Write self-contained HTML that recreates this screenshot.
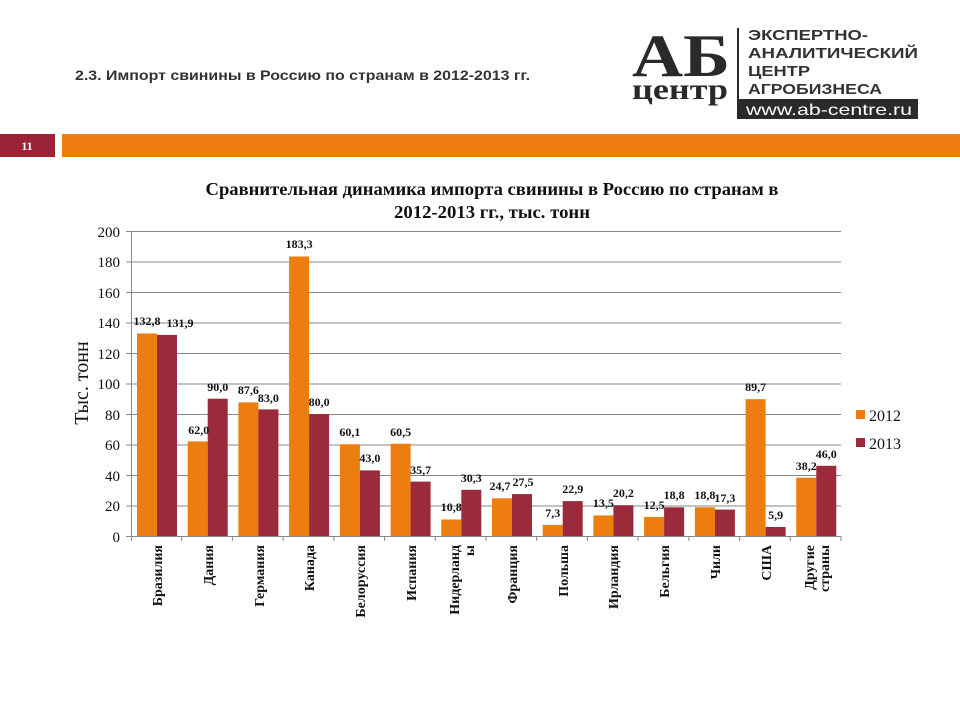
<!DOCTYPE html>
<html><head><meta charset="utf-8"><style>
body{margin:0;width:960px;height:720px;background:#fff;overflow:hidden}
svg{display:block}
</style></head><body>
<svg width="960" height="720" xmlns="http://www.w3.org/2000/svg">
<text x="75" y="80" font-family="Liberation Sans, sans-serif" font-weight="bold" font-size="14" fill="#333" textLength="455" lengthAdjust="spacingAndGlyphs">2.3. Импорт свинины в Россию по странам в 2012-2013 гг.</text>
<!-- logo -->
<text x="632" y="76" font-family="Liberation Serif, serif" font-weight="bold" font-size="60" fill="#2a2a2a" textLength="98" lengthAdjust="spacingAndGlyphs">АБ</text>
<text x="632" y="99" font-family="Liberation Serif, serif" font-weight="bold" font-size="30" fill="#2a2a2a" textLength="96" lengthAdjust="spacingAndGlyphs">центр</text>
<rect x="737" y="28" width="2" height="90" fill="#2a2a2a"/>
<g font-family="Liberation Sans, sans-serif" font-weight="bold" font-size="15" fill="#333">
<text x="748" y="40" textLength="120" lengthAdjust="spacingAndGlyphs">ЭКСПЕРТНО-</text>
<text x="748" y="58" textLength="170" lengthAdjust="spacingAndGlyphs">АНАЛИТИЧЕСКИЙ</text>
<text x="748" y="76" textLength="62" lengthAdjust="spacingAndGlyphs">ЦЕНТР</text>
<text x="748" y="94" textLength="134" lengthAdjust="spacingAndGlyphs">АГРОБИЗНЕСА</text>
</g>
<rect x="737" y="99" width="181" height="20" fill="#2a2a2a"/>
<text x="746" y="115" font-family="Liberation Sans, sans-serif" font-size="16" fill="#fff" textLength="166" lengthAdjust="spacingAndGlyphs">www.ab-centre.ru</text>
<!-- bars -->
<rect x="0" y="134" width="55" height="23" fill="#9b2335"/>
<text x="27" y="150" text-anchor="middle" font-family="Liberation Serif, serif" font-weight="bold" font-size="12" fill="#fff">11</text>
<rect x="62" y="134" width="898" height="23" fill="#ed7d0e"/>
<!-- title -->
<g font-family="Liberation Serif, serif" font-weight="bold" font-size="18" fill="#111" text-anchor="middle">
<text x="492" y="195" textLength="573" lengthAdjust="spacingAndGlyphs">Сравнительная динамика импорта свинины в Россию по странам в</text>
<text x="492" y="218" textLength="196" lengthAdjust="spacingAndGlyphs">2012-2013 гг., тыс. тонн</text>
</g>
<!-- grid -->
<g stroke="#888" stroke-width="1">
<line x1="131" x2="841" y1="231.5" y2="231.5"/><line x1="131" x2="841" y1="262" y2="262"/>
<line x1="131" x2="841" y1="292.5" y2="292.5"/><line x1="131" x2="841" y1="323" y2="323"/>
<line x1="131" x2="841" y1="353.5" y2="353.5"/><line x1="131" x2="841" y1="384" y2="384"/>
<line x1="131" x2="841" y1="414.5" y2="414.5"/><line x1="131" x2="841" y1="445" y2="445"/>
<line x1="131" x2="841" y1="475.5" y2="475.5"/><line x1="131" x2="841" y1="506" y2="506"/>
<line x1="131" x2="841" y1="536.5" y2="536.5"/>
<line x1="131.5" x2="131.5" y1="231" y2="541"/>
<line x1="126" x2="131" y1="231.5" y2="231.5"/><line x1="126" x2="131" y1="262" y2="262"/><line x1="126" x2="131" y1="292.5" y2="292.5"/><line x1="126" x2="131" y1="323" y2="323"/><line x1="126" x2="131" y1="353.5" y2="353.5"/><line x1="126" x2="131" y1="384" y2="384"/><line x1="126" x2="131" y1="414.5" y2="414.5"/><line x1="126" x2="131" y1="445" y2="445"/><line x1="126" x2="131" y1="475.5" y2="475.5"/><line x1="126" x2="131" y1="506" y2="506"/><line x1="126" x2="131" y1="536.5" y2="536.5"/>
<line x1="181.7" x2="181.7" y1="536" y2="541"/><line x1="232.4" x2="232.4" y1="536" y2="541"/><line x1="283.1" x2="283.1" y1="536" y2="541"/><line x1="333.9" x2="333.9" y1="536" y2="541"/><line x1="384.6" x2="384.6" y1="536" y2="541"/><line x1="435.3" x2="435.3" y1="536" y2="541"/><line x1="486" x2="486" y1="536" y2="541"/><line x1="536.7" x2="536.7" y1="536" y2="541"/><line x1="587.4" x2="587.4" y1="536" y2="541"/><line x1="638.1" x2="638.1" y1="536" y2="541"/><line x1="688.9" x2="688.9" y1="536" y2="541"/><line x1="739.6" x2="739.6" y1="536" y2="541"/><line x1="790.3" x2="790.3" y1="536" y2="541"/><line x1="841" x2="841" y1="536" y2="541"/>
</g>
<g font-family="Liberation Serif, serif" font-size="15" fill="#111" text-anchor="end">
<text x="120" y="237">200</text><text x="120" y="267">180</text><text x="120" y="298">160</text><text x="120" y="328">140</text><text x="120" y="359">120</text><text x="120" y="389">100</text><text x="120" y="420">80</text><text x="120" y="450">60</text><text x="120" y="481">40</text><text x="120" y="511">20</text><text x="120" y="542">0</text>
</g>
<text transform="translate(88,383) rotate(-90)" text-anchor="middle" font-family="Liberation Serif, serif" font-size="20" fill="#111">Тыс. тонн</text>
<g fill="#ed7d0e">
<rect x="137" y="333.5" width="20" height="202.5"/><rect x="187.7" y="441.4" width="20" height="94.6"/><rect x="238.4" y="402.4" width="20" height="133.6"/><rect x="289.1" y="256.5" width="20" height="279.5"/><rect x="339.9" y="444.3" width="20" height="91.7"/><rect x="390.6" y="443.7" width="20" height="92.3"/><rect x="441.3" y="519.5" width="20" height="16.5"/><rect x="492" y="498.3" width="20" height="37.7"/><rect x="542.7" y="524.9" width="20" height="11.1"/><rect x="593.4" y="515.4" width="20" height="20.6"/><rect x="644.1" y="516.9" width="20" height="19.1"/><rect x="694.9" y="507.3" width="20" height="28.7"/><rect x="745.6" y="399.2" width="20" height="136.8"/><rect x="796.3" y="477.7" width="20" height="58.3"/>
</g>
<g fill="#9b2a3a">
<rect x="157" y="334.9" width="20" height="201.1"/><rect x="207.7" y="398.7" width="20" height="137.3"/><rect x="258.4" y="409.4" width="20" height="126.6"/><rect x="309.1" y="414" width="20" height="122"/><rect x="359.9" y="470.4" width="20" height="65.6"/><rect x="410.6" y="481.6" width="20" height="54.4"/><rect x="461.3" y="489.8" width="20" height="46.2"/><rect x="512" y="494.1" width="20" height="41.9"/><rect x="562.7" y="501.1" width="20" height="34.9"/><rect x="613.4" y="505.2" width="20" height="30.8"/><rect x="664.1" y="507.3" width="20" height="28.7"/><rect x="714.9" y="509.6" width="20" height="26.4"/><rect x="765.6" y="527" width="20" height="9"/><rect x="816.3" y="465.8" width="20" height="70.2"/>
</g>
<g font-family="Liberation Serif, serif" font-weight="bold" font-size="12" fill="#111" text-anchor="middle">
<text x="147" y="325">132,8</text><text x="198.7" y="434">62,0</text><text x="248.4" y="394">87,6</text><text x="299.1" y="248">183,3</text><text x="349.9" y="436">60,1</text><text x="400.6" y="436">60,5</text><text x="451.3" y="511">10,8</text><text x="500" y="490">24,7</text><text x="552.7" y="517">7,3</text><text x="603.4" y="507">13,5</text><text x="654.1" y="509">12,5</text><text x="704.9" y="499">18,8</text><text x="755.6" y="391">89,7</text><text x="806.3" y="470">38,2</text>
<text x="180" y="327">131,9</text><text x="217.7" y="391">90,0</text><text x="268.4" y="402">83,0</text><text x="319.1" y="406">80,0</text><text x="369.9" y="462">43,0</text><text x="420.6" y="474">35,7</text><text x="471.3" y="482">30,3</text><text x="523" y="486">27,5</text><text x="572.7" y="493">22,9</text><text x="623.4" y="497">20,2</text><text x="674.1" y="499">18,8</text><text x="724.9" y="502">17,3</text><text x="775.6" y="519">5,9</text><text x="826.3" y="458">46,0</text>
</g>
<g font-family="Liberation Serif, serif" font-weight="bold" font-size="14" fill="#111" text-anchor="end">
<text transform="translate(162,545) rotate(-90)">Бразилия</text>
<text transform="translate(213,545) rotate(-90)">Дания</text>
<text transform="translate(264,545) rotate(-90)">Германия</text>
<text transform="translate(314,545) rotate(-90)">Канада</text>
<text transform="translate(365,545) rotate(-90)">Белоруссия</text>
<text transform="translate(416,545) rotate(-90)">Испания</text>
<text transform="translate(459,545) rotate(-90)">Нидерланд</text>
<text transform="translate(474,545) rotate(-90)">ы</text>
<text transform="translate(517,545) rotate(-90)">Франция</text>
<text transform="translate(568,545) rotate(-90)">Польша</text>
<text transform="translate(618,545) rotate(-90)">Ирландия</text>
<text transform="translate(669,545) rotate(-90)">Бельгия</text>
<text transform="translate(720,545) rotate(-90)">Чили</text>
<text transform="translate(771,545) rotate(-90)">США</text>
<text transform="translate(814,545) rotate(-90)">Другие</text>
<text transform="translate(829,545) rotate(-90)">страны</text>
</g>
<rect x="856" y="410" width="9" height="9" fill="#ed7d0e"/>
<rect x="856" y="438" width="9" height="9" fill="#9b2a3a"/>
<g font-family="Liberation Serif, serif" font-size="16" fill="#111">
<text x="869" y="421">2012</text><text x="869" y="449">2013</text>
</g>
</svg>
</body></html>
